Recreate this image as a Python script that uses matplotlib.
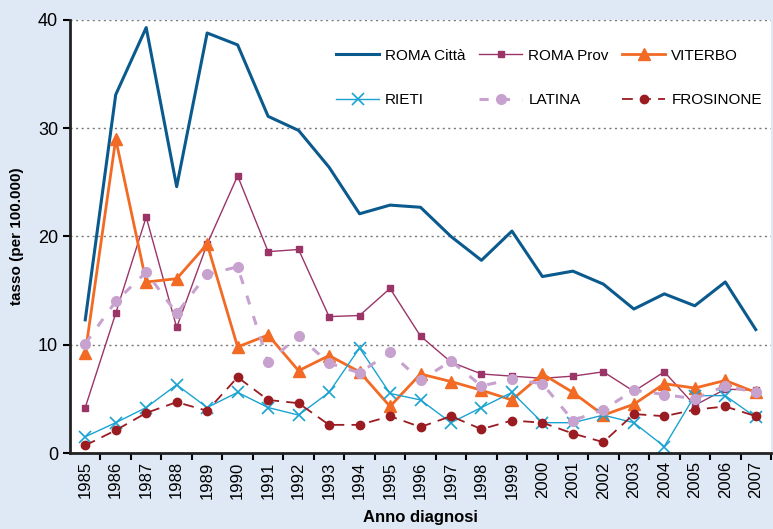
import matplotlib
matplotlib.use("Agg")
import matplotlib.pyplot as plt
import numpy as np

plt.rcParams["font.family"] = ["Liberation Sans Narrow", "Liberation Sans", "DejaVu Sans"]

years = [str(y) for y in range(1985, 2008)]

roma_citta = [12.3, 33.1, 39.3, 24.6, 38.8, 37.7, 31.1, 29.8, 26.4, 22.1, 22.9, 22.7,
              20.0, 17.8, 20.5, 16.3, 16.8, 15.6, 13.3, 14.7, 13.6, 15.8, 11.4]
roma_prov = [4.2, 12.9, 21.8, 11.6, 19.3, 25.6, 18.6, 18.8, 12.6, 12.7, 15.2, 10.8,
             8.4, 7.3, 7.1, 6.9, 7.1, 7.5, 5.7, 7.5, 4.4, 5.9, 5.8]
viterbo = [9.2, 29.0, 15.8, 16.1, 19.3, 9.8, 10.9, 7.6, 9.0, 7.5, 4.3, 7.3,
           6.6, 5.8, 4.9, 7.3, 5.6, 3.5, 4.5, 6.4, 6.0, 6.7, 5.6]
rieti = [1.5, 2.8, 4.2, 6.3, 4.2, 5.6, 4.2, 3.5, 5.6, 9.7, 5.5, 4.9,
         2.8, 4.2, 5.6, 2.8, 2.8, 3.5, 2.8, 0.6, 5.3, 5.3, 3.3]
latina = [10.1, 14.0, 16.7, 12.9, 16.5, 17.2, 8.4, 10.8, 8.3, 7.4, 9.3, 6.7,
          8.5, 6.2, 6.8, 6.4, 3.0, 4.0, 5.8, 5.4, 5.0, 6.2, 5.6]
frosinone = [0.7, 2.1, 3.7, 4.7, 3.9, 7.0, 4.9, 4.6, 2.6, 2.6, 3.4, 2.4,
             3.4, 2.2, 3.0, 2.8, 1.8, 1.0, 3.6, 3.4, 4.0, 4.3, 3.4]

BG = "#dfe9f5"

fig = plt.figure(figsize=(7.73, 5.29), dpi=100, facecolor=BG)
ax = fig.add_axes([70 / 773, 76 / 529, 701 / 773, 433 / 529])
x = np.arange(len(years))

l_citta, = ax.plot(x, roma_citta, color="#0b5a8e", lw=2.2, label="ROMA Città")
l_prov, = ax.plot(x, roma_prov, color="#9b3467", lw=1.0, marker="s", ms=5,
                  label="ROMA Prov")
l_vit, = ax.plot(x, viterbo, color="#f26a24", lw=2.0, marker="^", ms=8,
                 label="VITERBO")
l_rieti, = ax.plot(x, rieti, color="#1aa3d1", lw=1.0, marker="x", ms=8, mew=1.2,
                   label="RIETI")
l_lat, = ax.plot(x, latina, color="#c8a2cf", lw=2.2, ls=(0, (3, 4)), marker="o", ms=7,
                 label="LATINA")
l_fro, = ax.plot(x, frosinone, color="#9a1b20", lw=1.3, ls=(0, (6, 4)), marker="o", ms=6,
                 label="FROSINONE")

ax.set_xlim(-0.5, len(years) - 0.5)
ax.set_ylim(0, 40)
ax.set_yticks([0, 10, 20, 30, 40])
ax.set_xticks(x)
ax.set_xticklabels(years, rotation=90, fontsize=12)
ax.set_xticks(np.arange(len(years)) + 0.5, minor=True)
ax.tick_params(axis="x", which="major", length=0, pad=6)
ax.tick_params(axis="x", which="minor", length=5, width=1.5, direction="out")
ax.tick_params(axis="y", length=5, width=1.5, direction="out", labelsize=13)
ax.grid(axis="y", color="#777777", ls=(0, (1.5, 2.5)), lw=1)
ax.set_axisbelow(True)

for s in ["top", "right"]:
    ax.spines[s].set_visible(False)
for s in ["left", "bottom"]:
    ax.spines[s].set_linewidth(2)
    ax.spines[s].set_color("#222222")

ax.set_ylabel("tasso (per 100.000)", fontsize=11, fontweight="bold", labelpad=10)
ax.set_xlabel("Anno diagnosi", fontsize=12, fontweight="bold", labelpad=8)

handles = [l_citta, l_rieti, l_prov, l_lat, l_vit, l_fro]
ax.legend(handles=handles, labels=[h.get_label() for h in handles], ncol=3,
          loc="upper right", bbox_to_anchor=(1.0, 0.955), frameon=False,
          fontsize=11, handlelength=2.8, columnspacing=0.9, labelspacing=2.0,
          handletextpad=0.4, borderaxespad=0.2)

fig.savefig("out.png", dpi=100, facecolor=BG)
